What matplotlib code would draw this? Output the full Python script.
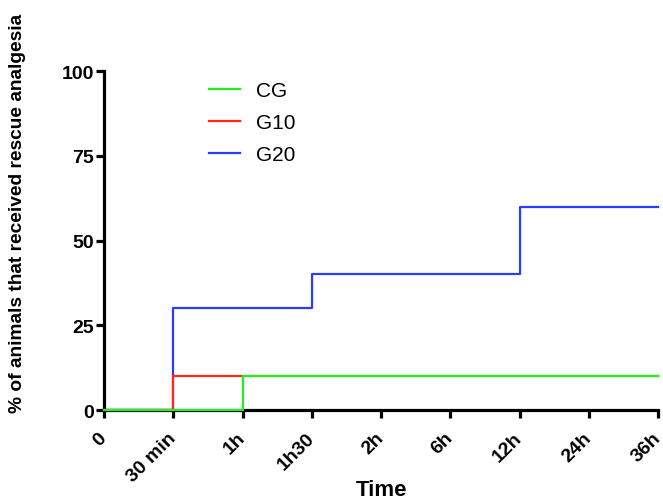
import matplotlib
matplotlib.use("Agg")
import matplotlib.pyplot as plt

plt.rcParams['font.family'] = ['Liberation Sans', 'DejaVu Sans']

time_labels = ["0", "30 min", "1h", "1h30", "2h", "6h", "12h", "24h", "36h"]
cg = [0, 0, 10, 10, 10, 10, 10, 10, 10]
g10 = [0, 10, 10, 10, 10, 10, 10, 10, 10]
g20 = [0, 30, 30, 40, 40, 40, 60, 60, 60]

x = list(range(len(time_labels)))

fig = plt.figure(figsize=(6.63, 5.02), dpi=100)
ax = fig.add_axes([104/663, 1-411/502, (658-104)/663, (411-72)/502])

ax.step(x, g20, where='post', color='#2b3cff', lw=1.6, label='G20', zorder=3, clip_on=False)
ax.step(x, g10, where='post', color='#ff2a1a', lw=1.6, label='G10', zorder=4, clip_on=False)
ax.step(x, cg, where='post', color='#22ee22', lw=1.6, label='CG', zorder=5, clip_on=False)

ax.set_xlim(0, 8)
ax.set_ylim(0, 100)
ax.set_yticks([0, 25, 50, 75, 100])
ax.set_xticks(x)
ax.set_xticklabels(time_labels, rotation=45, ha='right', va='center', rotation_mode='anchor')

for s in ['top', 'right']:
    ax.spines[s].set_visible(False)
for s in ['left', 'bottom']:
    ax.spines[s].set_linewidth(2.3)
ax.tick_params(axis='both', width=2.3, length=6, labelsize=14)
ax.tick_params(axis='y', pad=1)
ax.tick_params(axis='x', pad=12)
for lab in ax.get_xticklabels() + ax.get_yticklabels():
    lab.set_fontweight('bold')

handles, labels = ax.get_legend_handles_labels()
order = [2, 1, 0]
ax.legend([handles[i] for i in order], [labels[i] for i in order],
          loc='upper left', bbox_to_anchor=((209-104)/554, (411-82)/339), frameon=False,
          fontsize=15, handlelength=1.5, handletextpad=0.75, labelspacing=0.62,
          borderpad=0, borderaxespad=0)

fig.text(382/663, 1-491/502, "Time", ha='center', va='center', fontsize=16, fontweight='bold')
fig.text(18/663, 1-213/502, "% of animals that received rescue analgesia", ha='center', va='center',
         rotation=90, fontsize=13.8, fontweight='bold')

fig.savefig("out.png", dpi=100)
